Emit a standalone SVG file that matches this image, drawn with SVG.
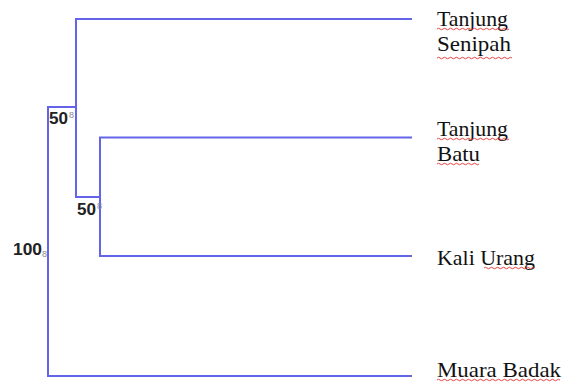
<svg xmlns="http://www.w3.org/2000/svg" width="563" height="387" viewBox="0 0 563 387">
  <style>
    .branch { fill: none; stroke: #6464e8; stroke-width: 2; }
    .leaf { font-family: "Liberation Serif", "Times New Roman", serif; font-size: 22px; fill: #111; }
    .boot { font-family: "Liberation Sans", Arial, sans-serif; font-size: 16.5px; font-weight: bold; fill: #222; }
    .sup { font-family: "Liberation Sans", Arial, sans-serif; font-size: 9px; fill: #888; }
    .squiggle { fill: none; stroke: #e03030; stroke-width: 0.9; }
  </style>
  <rect width="563" height="387" fill="#ffffff"/>

  <!-- tree branches -->
  <g id="connectors">
    <path class="branch" d="M412,19 H76 V197 H100"/>
    <path class="branch" d="M412,137.5 H100 V256 H412"/>
    <path class="branch" d="M76,107 H48 V376 H412"/>
  </g>

  <!-- bootstrap values -->
  <g id="node-inner1">
    <text class="boot" x="49" y="124" textLength="19" lengthAdjust="spacingAndGlyphs">50</text>
    <text class="sup" x="69" y="118">8</text>
  </g>
  <g id="node-inner2">
    <text class="boot" x="77" y="215" textLength="19" lengthAdjust="spacingAndGlyphs">50</text>
    <text class="sup" x="97" y="209">8</text>
  </g>
  <g id="node-root">
    <text class="boot" x="13" y="255" textLength="29" lengthAdjust="spacingAndGlyphs">100</text>
    <text class="sup" x="42" y="257">8</text>
  </g>

  <!-- taxa -->
  <g id="leaf-tanjung-senipah">
    <text class="leaf" x="437" y="26" textLength="71" lengthAdjust="spacingAndGlyphs">Tanjung</text>
    <text class="leaf" x="437" y="51" textLength="74" lengthAdjust="spacingAndGlyphs">Senipah</text>
    <path class="squiggle" d="M437,29 q1.5,-1.5 3,0 t3,0 t3,0 t3,0 t3,0 t3,0 t3,0 t3,0 t3,0 t3,0 t3,0 t3,0 t3,0 t3,0 t3,0 t3,0 t3,0 t3,0 t3,0 t3,0 t3,0 t3,0 t3,0 t3,0"/>
    <path class="squiggle" d="M437,58 q1.5,-1.5 3,0 t3,0 t3,0 t3,0 t3,0 t3,0 t3,0 t3,0 t3,0 t3,0 t3,0 t3,0 t3,0 t3,0 t3,0 t3,0 t3,0 t3,0 t3,0 t3,0 t3,0 t3,0 t3,0 t3,0 t3,0"/>
  </g>
  <g id="leaf-tanjung-batu">
    <text class="leaf" x="437" y="136" textLength="71" lengthAdjust="spacingAndGlyphs">Tanjung</text>
    <text class="leaf" x="437" y="161" textLength="43" lengthAdjust="spacingAndGlyphs">Batu</text>
    <path class="squiggle" d="M437,139 q1.5,-1.5 3,0 t3,0 t3,0 t3,0 t3,0 t3,0 t3,0 t3,0 t3,0 t3,0 t3,0 t3,0 t3,0 t3,0 t3,0 t3,0 t3,0 t3,0 t3,0 t3,0 t3,0 t3,0 t3,0 t3,0"/>
    <path class="squiggle" d="M437,164 q1.5,-1.5 3,0 t3,0 t3,0 t3,0 t3,0 t3,0 t3,0 t3,0 t3,0 t3,0 t3,0 t3,0 t3,0 t3,0"/>
  </g>
  <g id="leaf-kali-urang">
    <text class="leaf" x="437" y="265" textLength="98" lengthAdjust="spacingAndGlyphs">Kali Urang</text>
    <path class="squiggle" d="M484,268 q1.5,-1.5 3,0 t3,0 t3,0 t3,0 t3,0 t3,0 t3,0 t3,0 t3,0 t3,0 t3,0 t3,0 t3,0 t3,0 t3,0 t3,0 t3,0"/>
  </g>
  <g id="leaf-muara-badak">
    <text class="leaf" x="437" y="377" textLength="124" lengthAdjust="spacingAndGlyphs">Muara Badak</text>
    <path class="squiggle" d="M437,380 q1.5,-1.5 3,0 t3,0 t3,0 t3,0 t3,0 t3,0 t3,0 t3,0 t3,0 t3,0 t3,0 t3,0 t3,0 t3,0 t3,0 t3,0 t3,0 t3,0 t3,0 t3,0 t3,0 t3,0 t3,0 t3,0 t3,0 t3,0 t3,0 t3,0 t3,0 t3,0 t3,0 t3,0 t3,0 t3,0 t3,0 t3,0 t3,0 t3,0 t3,0 t3,0 t3,0"/>
  </g>
</svg>
